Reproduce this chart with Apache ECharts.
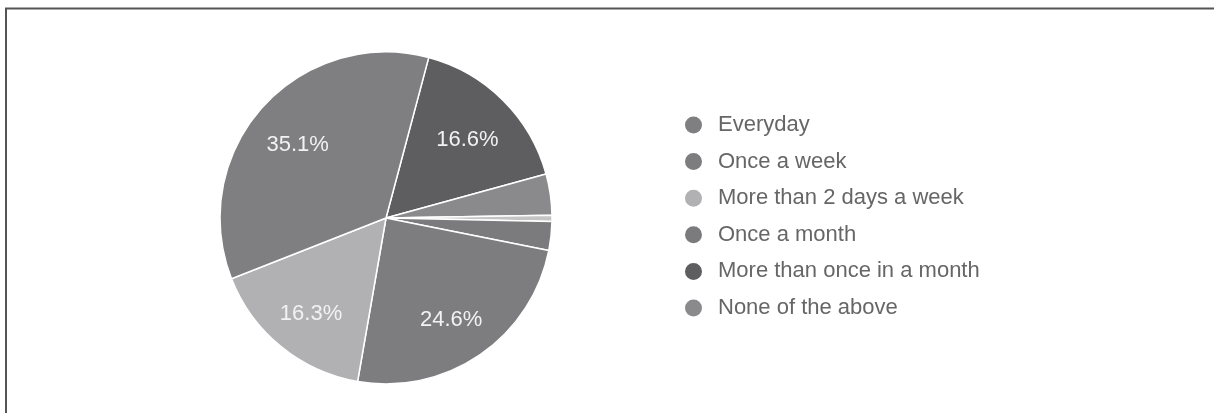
<!DOCTYPE html>
<html>
<head>
<meta charset="utf-8">
<script src="https://cdn.jsdelivr.net/npm/echarts@6/dist/echarts.min.js"></script>
<style>
html,body{margin:0;padding:0;background:#fff;}
#main{width:1214px;height:413px;}
</style>
</head>
<body>
<div id="main"></div>
<script>
// slices in clockwise order, starting just right of 12 o'clock
var names = ['More than once in a month', 'None of the above', 'Other', 'Once a month', 'Once a week', 'More than 2 days a week', 'Everyday'];
var values = [16.6, 4.0, 0.6, 2.8, 24.6, 16.3, 35.1];
var colors = ['#5e5e61', '#8a8a8c', '#c4c4c4', '#7b7b7e', '#7d7d80', '#b1b1b3', '#7f7f82'];
var legendNames = ['Everyday', 'Once a week', 'More than 2 days a week', 'Once a month', 'More than once in a month', 'None of the above'];

var chart = echarts.init(document.getElementById('main'));
var pieData = names.map(function (n, i) {
    return {name: n, value: values[i], itemStyle: {color: colors[i]}};
});
var labelData = names.map(function (n, i) {
    return {name: n, value: values[i]};
});

chart.setOption({
    animation: false,
    color: colors,
    legend: {
        data: legendNames,
        orient: 'vertical',
        left: 678,
        top: 109,
        icon: 'circle',
        itemWidth: 19,
        itemHeight: 19,
        itemGap: 14.6,
        selectedMode: false,
        textStyle: {
            fontFamily: 'Liberation Sans, Arial, sans-serif',
            fontSize: 22,
            lineHeight: 19,
            color: '#666666',
            padding: [0, 0, 0, 10]
        }
    },
    graphic: [
        {type: 'line', shape: {x1: 6, y1: 8, x2: 6, y2: 413}, style: {stroke: '#555', lineWidth: 2}},
        {type: 'line', shape: {x1: 5, y1: 8.5, x2: 1214, y2: 8.5}, style: {stroke: '#555', lineWidth: 2}}
    ],
    series: [
        {
            type: 'pie',
            center: [386, 218],
            radius: 166,
            startAngle: 75.1,
            clockwise: true,
            label: {show: false},
            labelLine: {show: false},
            itemStyle: {borderColor: '#fff', borderWidth: 1.5},
            data: pieData
        },
        {
            type: 'pie',
            silent: true,
            center: [386, 218],
            radius: [62, 166],
            startAngle: 75.1,
            clockwise: true,
            itemStyle: {color: 'rgba(0,0,0,0)', borderWidth: 0},
            labelLine: {show: false},
            label: {
                show: true,
                position: 'inside',
                color: '#f2f2f2',
                fontFamily: 'Liberation Sans, Arial, sans-serif',
                fontSize: 22,
                offset: [-1, 5],
                formatter: function (p) {
                    return p.value > 5 ? p.value.toFixed(1) + '%' : '';
                }
            },
            data: labelData
        }
    ]
});
</script>
</body>
</html>
